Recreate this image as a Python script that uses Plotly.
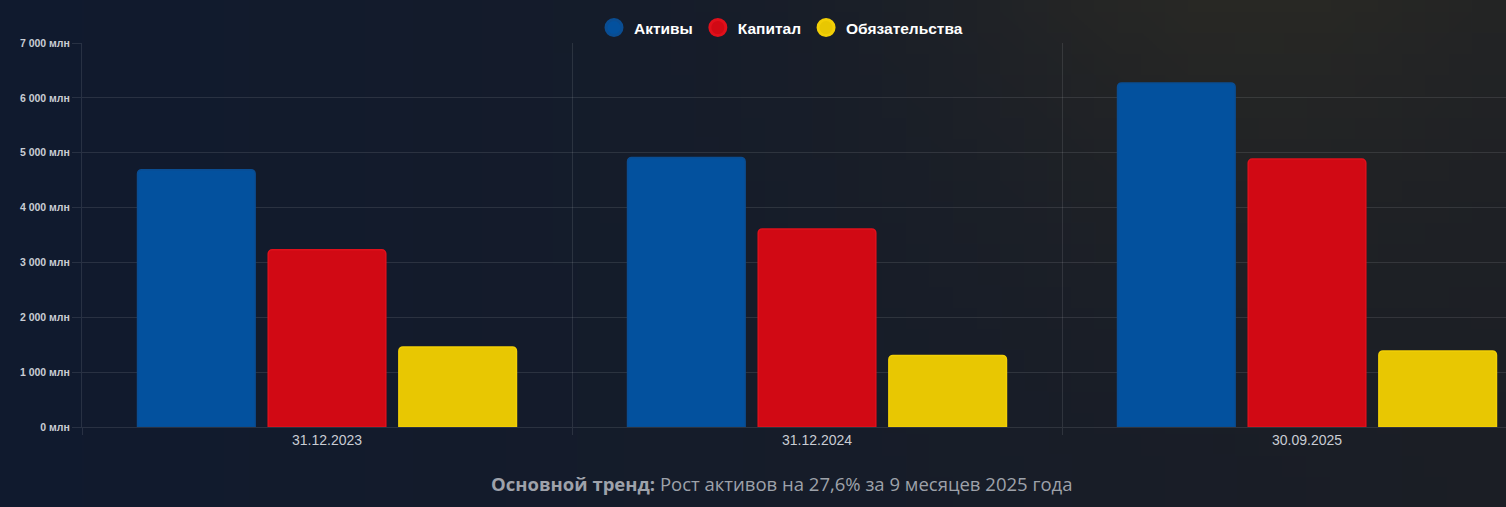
import base64
import math
import struct
import zlib

import plotly.graph_objects as go

# values, million roubles
dates = ["31.12.2023", "31.12.2024", "30.09.2025"]
assets = [4690, 4915, 6272]
capital = [3230, 3610, 4885]
liabilities = [1460, 1305, 1387]

series_names = ["Активы", "Капитал", "Обязательства"]
colors = ["#03519e", "#d10914", "#e8c702"]
edge_colors = ["#0a4d92", "#e0101b", "#f2cf06"]

y_ticks = [0, 1000, 2000, 3000, 4000, 5000, 6000, 7000]
y_tick_text = [f"{v:,}".replace(",", " ") + " млн" for v in y_ticks]

W, H = 1506, 507
M_L, M_R, M_T, M_B = 82, 0, 43, 80
PLOT_W = W - M_L - M_R
PLOT_H = H - M_T - M_B
CAT_W = 490  # pixels per category in the reference


def background_uri(w=64, h=24):
    """Small PNG with the dark navy -> olive gradient, stretched over the page."""
    left = (16, 26, 46)
    right = (27, 30, 37)
    glow = (43, 42, 36)

    def pixel(fx, fy):
        base = [l + (r - l) * fx for l, r in zip(left, right)]
        g = math.exp(-((fx - 0.84) ** 2) / 0.05) * (1 - fy) ** 1.6 * 0.85
        return bytes(int(round(b + (c - b) * g)) for b, c in zip(base, glow))

    raw = b"".join(
        b"\x00" + b"".join(pixel(x / (w - 1), y / (h - 1)) for x in range(w))
        for y in range(h)
    )

    def chunk(tag, data):
        body = tag + data
        return struct.pack(">I", len(data)) + body + struct.pack(">I", zlib.crc32(body) & 0xFFFFFFFF)

    png = (
        b"\x89PNG\r\n\x1a\n"
        + chunk(b"IHDR", struct.pack(">IIBBBBB", w, h, 8, 2, 0, 0, 0))
        + chunk(b"IDAT", zlib.compress(raw, 9))
        + chunk(b"IEND", b"")
    )
    return "data:image/png;base64," + base64.b64encode(png).decode()


fig = go.Figure()

for name, values, color, edge in zip(series_names, [assets, capital, liabilities], colors, edge_colors):
    fig.add_trace(
        go.Bar(
            x=dates,
            y=values,
            name=name,
            legendgroup=name,
            showlegend=False,
            marker=dict(color=color, line=dict(color=edge, width=1.5), cornerradius=4),
            hovertemplate="%{x}<br>" + name + ": %{y:,d} млн<extra></extra>",
        )
    )
    # circle swatch for the legend
    fig.add_trace(
        go.Scatter(
            x=[None],
            y=[None],
            mode="markers",
            name=name,
            legendgroup=name,
            marker=dict(symbol="circle", size=16, color=color, line=dict(color=edge, width=3)),
        )
    )

center_x = (781 - M_L) / PLOT_W

fig.add_annotation(
    text="<b>Основной тренд:</b> Рост активов на 27,6% за 9 месяцев 2025 года",
    xref="paper",
    yref="paper",
    x=center_x,
    y=-(483 - (H - M_B)) / PLOT_H,
    xanchor="center",
    yanchor="middle",
    showarrow=False,
    font=dict(family="Open Sans", size=18.5, color="#9ea2aa"),
)

fig.update_layout(
    width=W,
    height=H,
    margin=dict(l=M_L, r=M_R, t=M_T, b=M_B),
    paper_bgcolor="#121a2c",
    plot_bgcolor="rgba(0,0,0,0)",
    separators=", ",
    barmode="group",
    bargap=0.2,
    bargroupgap=0.1,
    font=dict(family="Arial", color="#c9cdd4"),
    legend=dict(
        orientation="h",
        x=center_x,
        xanchor="center",
        y=1 + 15 / PLOT_H,
        yanchor="middle",
        font=dict(family="Arial", size=15.5, color="#ffffff", weight="bold"),
        itemwidth=30,
        bgcolor="rgba(0,0,0,0)",
    ),
    images=[
        dict(
            source=background_uri(),
            xref="paper",
            yref="paper",
            x=-M_L / PLOT_W,
            y=1 + M_T / PLOT_H,
            sizex=W / PLOT_W,
            sizey=H / PLOT_H,
            sizing="stretch",
            xanchor="left",
            yanchor="top",
            layer="below",
        )
    ],
    xaxis=dict(
        type="category",
        range=[-0.5, PLOT_W / CAT_W - 0.5],
        tickson="boundaries",
        ticks="outside",
        ticklen=7,
        tickcolor="rgba(255,255,255,0.1)",
        showgrid=True,
        gridcolor="rgba(255,255,255,0.1)",
        showline=True,
        linecolor="rgba(255,255,255,0.1)",
        tickfont=dict(size=14, color="#c9cdd4"),
        fixedrange=True,
    ),
    yaxis=dict(
        range=[0, 7000],
        tickvals=y_ticks,
        ticktext=y_tick_text,
        ticks="outside",
        ticklen=9,
        tickcolor="rgba(255,255,255,0.1)",
        showgrid=True,
        gridcolor="rgba(255,255,255,0.1)",
        zeroline=False,
        showline=True,
        linecolor="rgba(255,255,255,0.1)",
        tickfont=dict(size=10.5, color="#c9cdd4", weight="bold"),
        fixedrange=True,
    ),
)

# the page has a default 8px body margin; drop it so the chart fills the window
fig.write_html(
    "out.html",
    config={"displayModeBar": False},
    post_script="document.body.style.margin='0';document.body.style.background='#121a2c';",
)
